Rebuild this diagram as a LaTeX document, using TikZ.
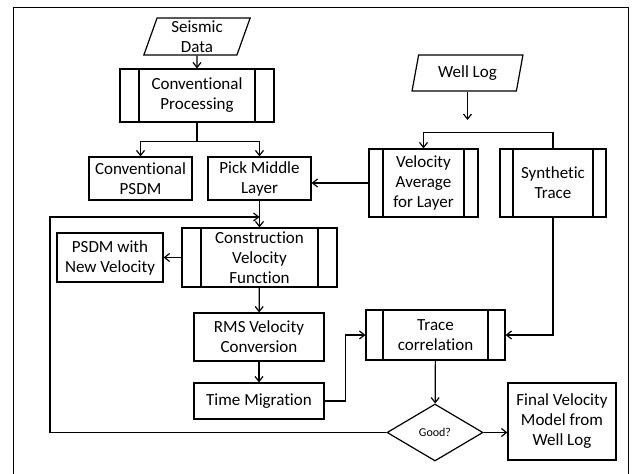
\documentclass[tikz,border=0pt]{standalone}
\usepackage{fontspec}
\setmainfont{Carlito}[Ligatures=CommonOff]
\usetikzlibrary{arrows.meta,shapes.geometric}
\tikzset{
  box/.style={draw, line width=1.2pt, inner sep=0pt, align=center,
    font=\fontsize{17}{20}\selectfont},
  subproc/.style={box, path picture={
    \draw[line width=1.2pt]
      ([xshift=#1]path picture bounding box.north west) -- ([xshift=#1]path picture bounding box.south west)
      ([xshift=-#1]path picture bounding box.north east) -- ([xshift=-#1]path picture bounding box.south east);}},
  subproc/.default=19pt,
  io/.style={box, trapezium, trapezium left angle=75, trapezium right angle=105,
    trapezium stretches=true},
  decision/.style={box, diamond, font=\fontsize{12}{14}\selectfont},
  flow/.style={line width=1.2pt, -{Straight Barb[length=5pt,width=8pt]}}
}
\begin{document}
\begin{tikzpicture}[x=1pt,y=-1pt]
\useasboundingbox (0,0) rectangle (633,474);
\draw[line width=1pt] (13,480) -- (13,7) -- (628,7) -- (628,480);

\node[io, minimum width=107pt, minimum height=37pt] (seis) at (197,36.5) {Seismic\\Data};
\node[subproc, minimum width=154pt, minimum height=53pt] (conv) at (197,95.5) {Conventional\\Processing};
\node[box, minimum width=103pt, minimum height=43pt] (cpsdm) at (140.5,178.5) {Conventional\\PSDM};
\node[box, minimum width=103pt, minimum height=43pt] (pick) at (259.5,178.5) {Pick Middle\\Layer};
\node[io, minimum width=111pt, minimum height=36pt] (well) at (467.5,73) {Well Log};
\node[subproc=14pt, minimum width=109pt, minimum height=68pt] (vavg) at (423.5,183) {Velocity\\Average\\for Layer};
\node[subproc=13pt, minimum width=106pt, minimum height=68pt] (synth) at (553,183) {Synthetic\\Trace};
\node[subproc, minimum width=155pt, minimum height=59pt] (cons) at (259.5,257.5) {Construction\\Velocity\\Function};
\node[box, minimum width=106pt, minimum height=49pt] (psdmnew) at (110,257.5) {PSDM with\\New Velocity};
\node[box, minimum width=130pt, minimum height=48pt] (rms) at (259,337) {RMS Velocity\\Conversion};
\node[box, minimum width=130pt, minimum height=36pt] (tmig) at (259,401) {Time Migration};
\node[subproc=17pt, minimum width=139pt, minimum height=50pt] (trace) at (435.5,335) {Trace\\correlation};
\node[decision, minimum width=96pt, minimum height=57pt] (good) at (435,432.5) {Good?};
\node[box, minimum width=108pt, minimum height=77pt] (final) at (562,421.5) {Final Velocity\\Model from\\Well Log};
\coordinate (wtip) at (467.5,120);
\coordinate (fb) at (50,217);

\draw[flow] (seis) -- (conv);
\draw[line width=1.2pt] (conv.south) -- ++(0,19) coordinate (cbr);
\draw[flow] (cbr) -| (cpsdm.north);
\draw[flow] (cbr) -| (pick.north);
\draw[flow] (well) -- (wtip);
\draw[flow, {Straight Barb[length=5pt,width=8pt]}-] (vavg.north) -- ++(0,-16) -| (synth.north);
\draw[flow] (vavg.west) -- (vavg.west -| pick.east);
\draw[flow] (pick) -- (cons);
\draw[flow] (cons) -- (psdmnew);
\draw[flow] (cons) -- (rms);
\draw[flow] (rms) -- (tmig);
\draw[flow] (tmig.east) -- ++(21,0) |- (trace.west);
\draw[flow] (synth.south) |- (trace.east);
\draw[flow] (trace) -- (good);
\draw[flow] (good.east) -- (good.east -| final.west);
\draw[flow] (good.west) -| (fb) -- (fb -| pick.south);
\end{tikzpicture}
\end{document}
